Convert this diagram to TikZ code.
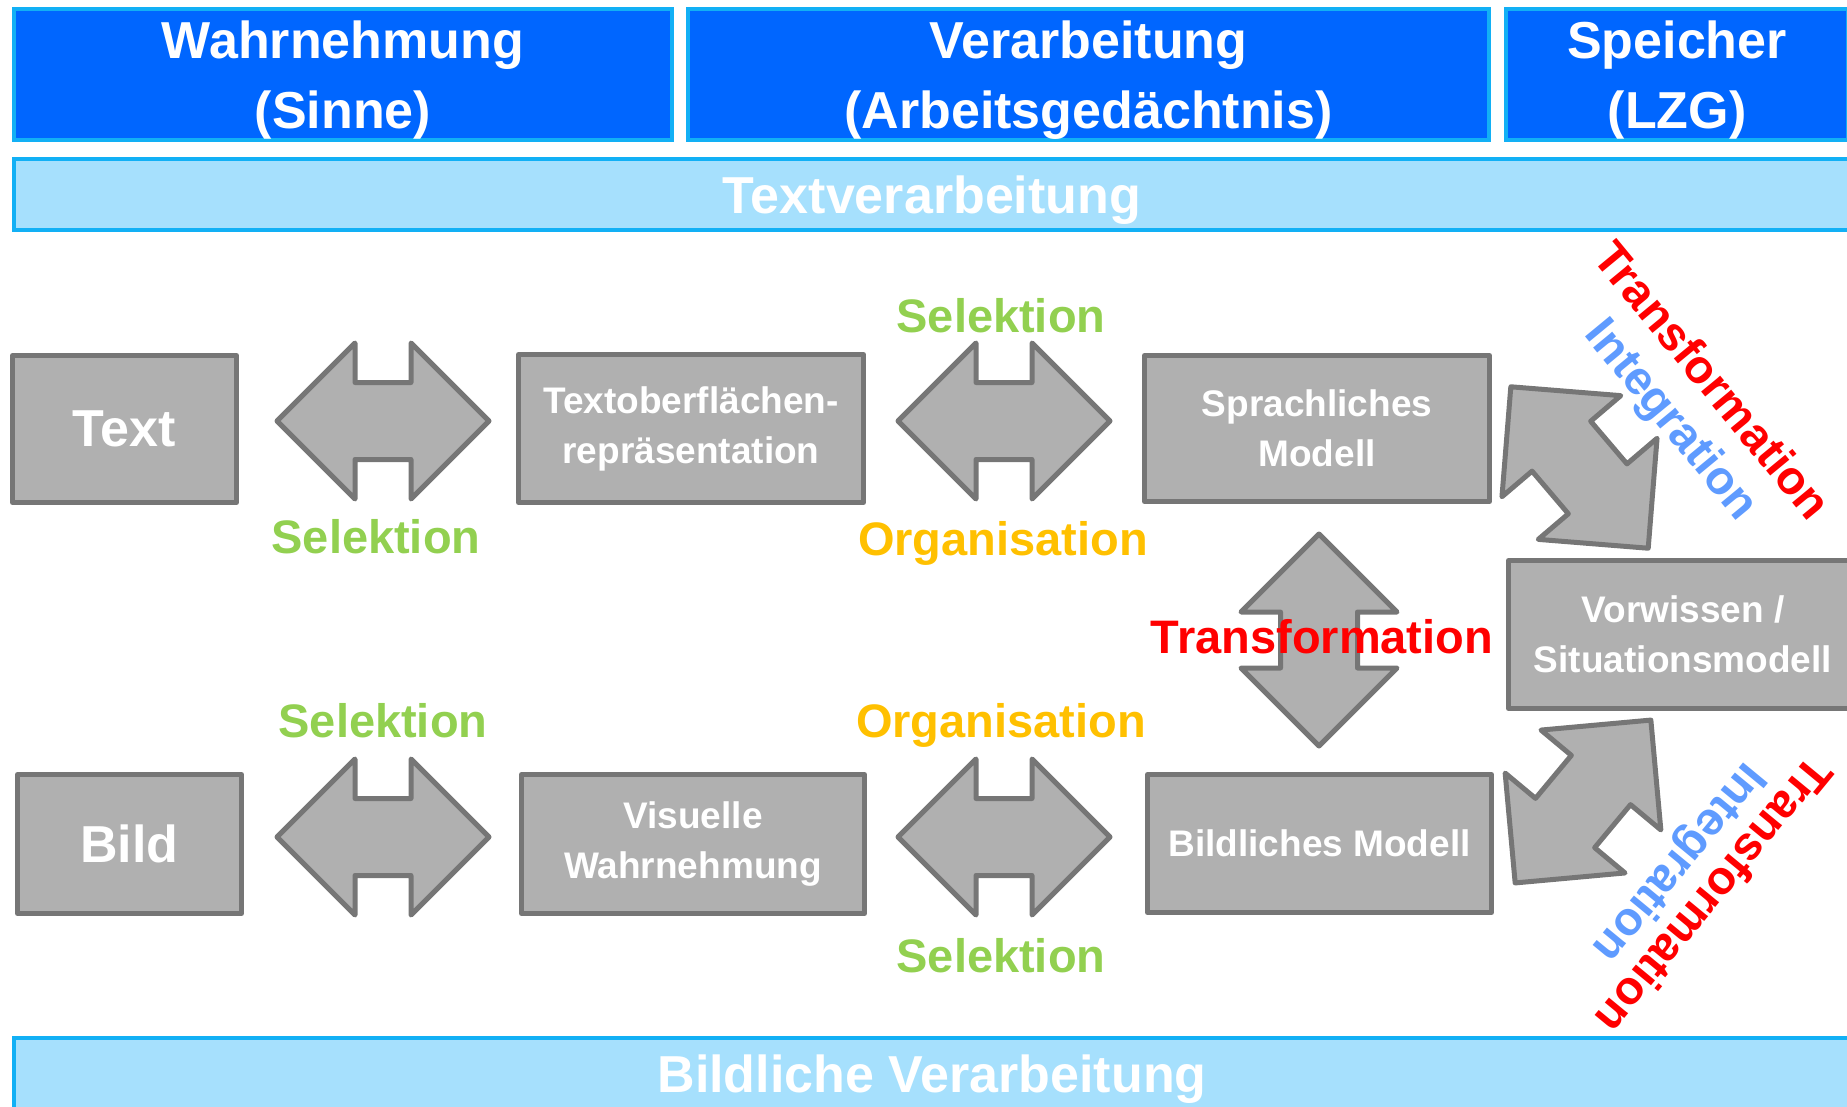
\documentclass[tikz,border=0pt]{standalone}
\usepackage{fontspec}
\setmainfont{Liberation Sans}

\definecolor{kopfblau}{RGB}{0,102,255}
\definecolor{randblau}{RGB}{18,176,245}
\definecolor{hellblau}{RGB}{166,224,253}
\definecolor{grau}{RGB}{176,176,176}
\definecolor{dunkelgrau}{RGB}{118,118,118}
\definecolor{selgruen}{RGB}{146,208,80}
\definecolor{orggelb}{RGB}{255,192,0}
\definecolor{intblau}{RGB}{95,155,255}

\begin{document}
\begin{tikzpicture}[x=1pt, y=-1pt,
  header/.style={draw=randblau, line width=4pt, fill=kopfblau, text=white, align=center,
    minimum height=131pt, text depth=0pt, font=\fontsize{52}{70}\selectfont\bfseries},
  band/.style={draw=randblau, line width=4pt, fill=hellblau, text=white,
    minimum width=1836pt, minimum height=71pt, text depth=0pt, font=\fontsize{52}{60}\selectfont\bfseries},
  graybox/.style={draw=dunkelgrau, line width=5pt, fill=grau, text=white, align=center,
    line join=round, font=\fontsize{37}{50}\selectfont\bfseries},
  blockarrow/.style={draw=dunkelgrau, line width=5pt, fill=grau, line join=round},
  lab/.style={anchor=base, font=\fontsize{47}{56}\selectfont\bfseries}]
  \useasboundingbox (0,0) rectangle (1847,1106);
  \clip (0,0) rectangle (1847,1106);

  % column heads and bands
  \node[header, minimum width=658pt] (wahr) at (343,74.5) {Wahrnehmung\\(Sinne)};
  \node[header, minimum width=801pt] (verarb) at (1088.5,74.5) {Verarbeitung\\(Arbeitsged\"achtnis)};
  \node[header, minimum width=342pt] (speicher) at (1677,74.5) {Speicher\\(LZG)};
  \node[band] (textv) at (932,194.5) {Textverarbeitung};
  \node[band] (bildv) at (932,1073.5) {Bildliche Verarbeitung};

  % boxes
  \node[graybox, minimum width=224pt, minimum height=147pt, text depth=0pt,
    font=\fontsize{52}{60}\selectfont\bfseries] (text) at (124.5,429) {Text};
  \node[graybox, minimum width=345pt, minimum height=148pt] (tob) at (691,428.5) {Textoberfl\"achen-\\repr\"asentation};
  \node[graybox, minimum width=345pt, minimum height=146pt] (sprach) at (1317,428.5) {Sprachliches\\Modell};
  \node[graybox, minimum width=224pt, minimum height=139pt, text depth=0pt,
    font=\fontsize{52}{60}\selectfont\bfseries] (bild) at (129.5,844) {Bild};
  \node[graybox, minimum width=343pt, minimum height=139pt] (visu) at (693,844) {Visuelle\\Wahrnehmung};
  \node[graybox, minimum width=344pt, minimum height=138pt] (bildm) at (1319.5,843.5) {Bildliches Modell};
  \node[graybox, minimum width=349pt, minimum height=148pt] (vorw) at (1683,634.5) {Vorwissen /\\Situationsmodell};

  % double arrows
  \foreach \nm/\cx/\cy/\ang in {pfa/383/421/0, pfb/1004/421/0, pfc/383/837/0, pfd/1004/837/0,
      pfe/1319/640/90, pff/1579.5/467.5/-49.6, pfg/1583/801.5/50.2} {
    \begin{scope}[shift={(\cx,\cy)}, rotate=\ang]
      \draw[blockarrow] (-106,0) -- (-28,-78) -- (-28,-38.5) -- (28,-38.5) -- (28,-78) -- (106,0)
        -- (28,78) -- (28,38.5) -- (-28,38.5) -- (-28,78) -- cycle;
      \coordinate (\nm) at (0,0);
    \end{scope}
  }

  % labels
  \node[lab, text=selgruen] (sela) at (376,553) {Selektion};
  \node[lab, text=selgruen] (selb) at (1001,332) {Selektion};
  \node[lab, text=orggelb] (orga) at (1003,555) {Organisation};
  \node[lab, text=selgruen] (selc) at (383,737) {Selektion};
  \node[lab, text=orggelb] (orgb) at (1001,737) {Organisation};
  \node[lab, text=selgruen] (seld) at (1001,972) {Selektion};
  \node[lab, text=red] (trm) at (1322,653) {Transformation};

  % diagonal labels
  \node[lab, anchor=center, text=red, rotate=-50.5] (tro) at (1713,380) {Transformation};
  \node[lab, anchor=center, text=intblau, rotate=-50.5] (into) at (1670,421) {Integration};
  \node[lab, anchor=center, text=red, rotate=230.5] (tru) at (1715,896) {Transformation};
  \node[lab, anchor=center, text=intblau, rotate=230.5] (intu) at (1678,862) {Integration};
\end{tikzpicture}
\end{document}
